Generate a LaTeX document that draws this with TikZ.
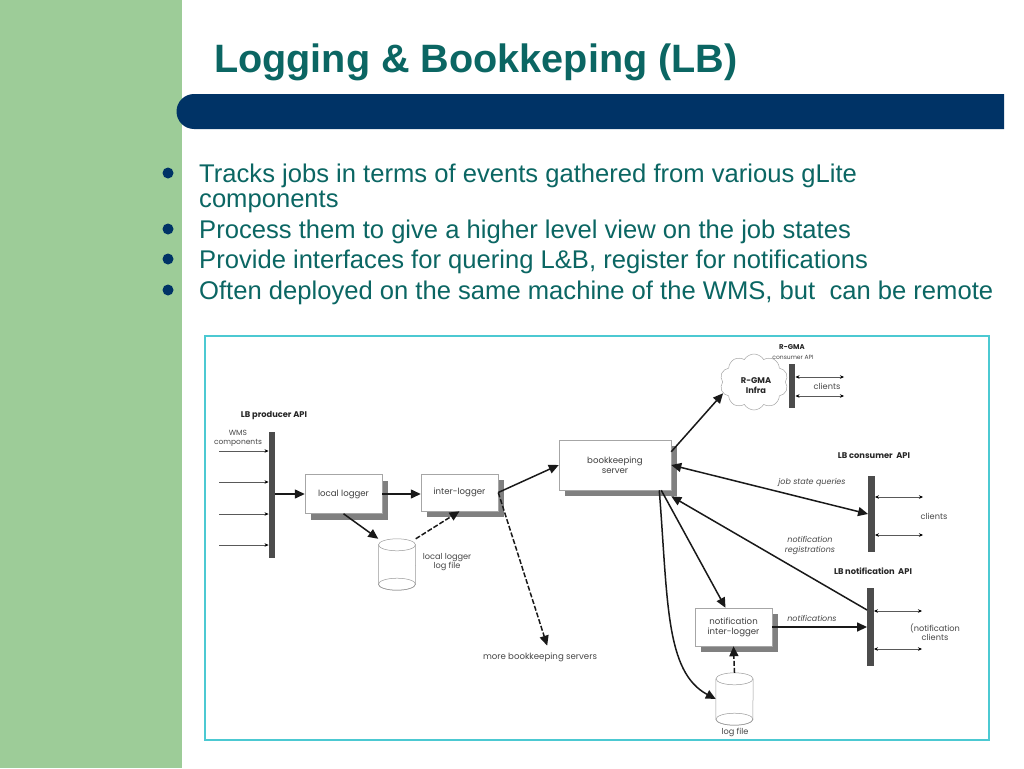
\documentclass[tikz,border=0pt]{standalone}
\usepackage{fontspec}
\setmainfont{Liberation Sans}
\newfontfamily\lbfont{Poppins}
\usetikzlibrary{arrows.meta,shapes.symbols,shadows}
\definecolor{lbgreen}{HTML}{9DCC98}
\definecolor{lbnavy}{HTML}{003366}
\definecolor{lbteal}{HTML}{0B6663}
\definecolor{lbframe}{HTML}{4CC9D2}
\tikzset{
  slide title/.style={anchor=base west,inner sep=0pt,text=lbteal,font=\fontsize{39.6}{39.6}\selectfont\bfseries},
  slide line/.style={anchor=base west,inner sep=0pt,text=lbteal,font=\fontsize{25.6}{25.6}\selectfont},
  slide dot/.style={circle,fill=lbnavy,minimum size=11pt,inner sep=0pt},
  lb box/.style={
    rectangle,draw=black!35,fill=white,line width=0.5pt,align=center,inner sep=0pt,
    text=black!75,font=\lbfont\fontsize{8.6}{10}\selectfont,
    drop shadow={shadow xshift=6pt,shadow yshift=-6pt,opacity=1,fill=black!50}
  },
  lb bar/.style={rectangle,fill=black!70,minimum width=6.5pt,inner sep=0pt},
  lb text/.style={align=center,inner sep=1pt,text=black!72,font=\lbfont\fontsize{8.2}{9.6}\selectfont},
  lb api/.style={align=center,inner sep=1pt,text=black!85,font=\lbfont\fontsize{8.3}{9.6}\selectfont\bfseries},
  lb note/.style={align=center,inner sep=1pt,text=black!72,font=\lbfont\itshape\fontsize{8}{9.2}\selectfont},
  lb flow/.style={black!90,line width=1.5pt,-{Triangle[length=10pt,width=9pt]}},
  lb dash/.style={lb flow,dashed,dash pattern=on 5pt off 2pt},
  lb thin/.style={black!65,line width=0.6pt,-{Stealth[length=4pt,width=3.5pt,black]}},
  lb both/.style={black!65,line width=0.6pt,{Stealth[length=4pt,width=3.5pt,black]}-{Stealth[length=4pt,width=3.5pt,black]}},
  lb disk/.style={draw=black!40,line width=0.5pt,fill=white}
}
\newcommand{\lbdisk}[3]{%
  \node[rectangle,inner sep=0pt,minimum width=37pt,minimum height=#3pt] (#1) at (#2) {};
  \draw[lb disk] ([yshift=-6pt]#1.north west) -- ([yshift=6pt]#1.south west)
    arc[start angle=180,end angle=360,x radius=18.5pt,y radius=6pt]
    -- ([yshift=-6pt]#1.north east);
  \draw[lb disk,fill=none] ([yshift=6pt]#1.south) ellipse[x radius=18.5pt,y radius=6pt];
  \draw[lb disk] ([yshift=-6pt]#1.north) ellipse[x radius=18.5pt,y radius=6pt];
}

\begin{document}
\begin{tikzpicture}[x=1pt,y=-1pt]
  \useasboundingbox (0,0) rectangle (1024,768);
  \fill[white] (0,0) rectangle (1024,768);
  \fill[lbgreen] (0,0) rectangle (182,768);
  \fill[lbnavy] (1004,94) -- (194,94) arc[start angle=90,end angle=270,radius=17.5pt] -- (1004,129) -- cycle;

  \node[slide title] (title) at (214,72) {Logging \& Bookkeping (LB)};
  \node[slide dot] (dota) at (168,173) {};
  \node[slide dot] (dotb) at (168,229) {};
  \node[slide dot] (dotc) at (168,259) {};
  \node[slide dot] (dotd) at (168,290) {};
  \node[slide line] (linea) at (199,182) {Tracks jobs in terms of events gathered from various gLite};
  \node[slide line] (lineb) at (199,207) {components};
  \node[slide line] (linec) at (199,238) {Process them to give a higher level view on the job states};
  \node[slide line] (lined) at (199,268) {Provide interfaces for quering L\&B, register for notifications};
  \node[slide line] (linee) at (199,299) {Often deployed on the same machine of the WMS, but\ \ can be remote};

  \draw[lbframe,line width=1.8pt,fill=white] (205,336) rectangle (989,740);

  % producer side
  \node[lb bar,minimum height=126pt] (prod) at (272,495) {};
  \node[lb api] (prodapi) at (274,416) {LB producer API};
  \node[lb text,font=\lbfont\fontsize{7.5}{8.8}\selectfont] (wms) at (238,438) {WMS\\components};
  \coordinate (wmsa) at (219,451);
  \coordinate (wmsb) at (219,482);
  \coordinate (wmsc) at (219,514);
  \coordinate (wmsd) at (219,545);
  \draw[lb thin] (wmsa) -- (wmsa -| prod.west);
  \draw[lb thin] (wmsb) -- (wmsb -| prod.west);
  \draw[lb thin] (wmsc) -- (wmsc -| prod.west);
  \draw[lb thin] (wmsd) -- (wmsd -| prod.west);
  \node[lb box,minimum width=77pt,minimum height=39pt] (local) at (343.5,494) {local logger};
  \node[lb box,minimum width=77pt,minimum height=37pt] (inter) at (459.5,492.5) {inter-logger};
  \node[lb box,minimum width=112pt,minimum height=50pt] (bk) at (615,465) {bookkeeping\\server};
  \lbdisk{diska}{397,564.5}{51}
  \node[lb text] (diskatext) at (447,562) {local logger\\log file};
  \node[lb text,font=\lbfont\fontsize{8.6}{10}\selectfont] (morebk) at (540,657) {more bookkeeping servers};

  % notification side
  \node[lb box,minimum width=77pt,minimum height=38pt] (notif) at (733.5,627) {notification\\inter-logger};
  \lbdisk{diskb}{734.5,699}{52}
  \node[lb text] (diskbtext) at (735,732) {log file};
  \node[lb bar,minimum height=78pt] (nbar) at (870.5,627) {};
  \node[lb api] (nbarapi) at (873,571) {LB notification\ \ API};
  \node[lb note] (notiftext) at (812,618) {notifications};
  \node[lb text] (nclients) at (935,632) {(notification\\clients};
  \coordinate (ncla) at (922,611);
  \coordinate (nclb) at (922,649);
  \draw[lb both] (nbar.east |- ncla) -- (ncla);
  \draw[lb both] (nbar.east |- nclb) -- (nclb);

  % consumer side
  \node[lb bar,minimum height=76pt] (cons) at (871.5,514) {};
  \node[lb api] (consapi) at (874,456) {LB consumer\ \ API};
  \node[lb note] (jobtext) at (812,482) {job state queries};
  \node[lb note] (regtext) at (810,545.5) {notification\\registrations};
  \node[lb text] (cclients) at (934,516) {clients};
  \coordinate (ccla) at (923,497);
  \coordinate (cclb) at (923,535);
  \draw[lb both] (cons.east |- ccla) -- (ccla);
  \draw[lb both] (cons.east |- cclb) -- (cclb);

  % r-gma side
  \node[cloud,cloud puffs=10,cloud puff arc=120,aspect=1.3,draw=black!35,line width=0.5pt,
    inner sep=0pt,minimum width=68pt,minimum height=56pt] (rgma) at (754,382) {};
  \node[lb api] (rgmatext) at (756,385.5) {R-GMA\\Infra};
  \node[lb bar,minimum height=44pt] (rbar) at (792,386) {};
  \node[lb api,font=\lbfont\fontsize{7}{8}\selectfont\bfseries] (rbarapi) at (792,347) {R-GMA};
  \node[lb text,font=\lbfont\fontsize{6}{7}\selectfont] (rbarcons) at (793,357) {consumer API};
  \node[lb text] (rclients) at (827,386) {clients};
  \coordinate (rcla) at (844,377);
  \coordinate (rclb) at (844,396);
  \draw[lb both] (rbar.east |- rcla) -- (rcla);
  \draw[lb both] (rbar.east |- rclb) -- (rclb);

  % flows
  \draw[lb flow] (prod.east |- local.west) -- (local.west);
  \draw[lb flow] (local.east) -- (local.east -| inter.west);
  \draw[lb flow] (inter.east) -- (bk.west);
  \draw[lb dash,shorten >=6pt] (inter.east) -- ([xshift=9pt]morebk.north);
  \draw[lb flow] (local.south) -- (diska.north west);
  \draw[lb dash] (diska.north east) -- (inter.south);
  \draw[lb flow] ([yshift=-12pt]bk.north east) -- (rgma.200);
  \draw[lb flow,{Triangle[length=10pt,width=9pt]}-{Triangle[length=10pt,width=9pt]}] (bk.east) -- (cons.west);
  \draw[lb flow] ([yshift=17pt]nbar.west) -- ([yshift=-6pt]bk.south east);
  \draw[lb flow] ([xshift=-10pt]bk.south east) -- ([xshift=-8pt]notif.north);
  \draw[lb flow] ([xshift=-12pt]bk.south east) .. controls (668,600) and (665,672) .. (diskb.west);
  \draw[lb flow] (notif.east) -- (notif.east -| nbar.west);
  \draw[lb dash] (diskb.north) -- (notif.south);
\end{tikzpicture}
\end{document}
